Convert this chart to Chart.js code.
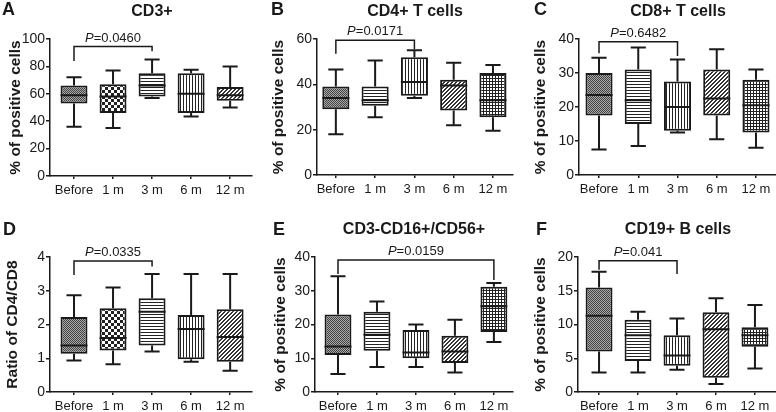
<!DOCTYPE html>
<html>
<head>
<meta charset="utf-8">
<script src="https://cdn.jsdelivr.net/npm/chart.js@4.4.0/dist/chart.umd.min.js"></script>
<style>
  body { margin: 0; background: #fff; }
  #wrap { position: relative; width: 776px; height: 412px; overflow: hidden; background: #fff;
          font-family: "Liberation Sans", Arial, sans-serif; color: #1a1a1a; }
  canvas { position: absolute; }
  .letter { position: absolute; font-size: 18px; font-weight: bold; line-height: 18px; }
  .title { position: absolute; width: 200px; text-align: center; font-size: 16px; font-weight: bold; line-height: 16px; }
</style>
</head>
<body>
<div id="wrap">
  <canvas id="chartA" width="258" height="200" style="left:0px;top:0px"></canvas>
  <canvas id="chartB" width="258" height="200" style="left:258px;top:0px"></canvas>
  <canvas id="chartC" width="260" height="200" style="left:516px;top:0px"></canvas>
  <canvas id="chartD" width="258" height="212" style="left:0px;top:200px"></canvas>
  <canvas id="chartE" width="258" height="212" style="left:258px;top:200px"></canvas>
  <canvas id="chartF" width="260" height="212" style="left:516px;top:200px"></canvas>

  <div class="letter" style="left:2px;top:0px">A</div>
  <div class="letter" style="left:271px;top:0px">B</div>
  <div class="letter" style="left:534px;top:0px">C</div>
  <div class="letter" style="left:3px;top:220px">D</div>
  <div class="letter" style="left:273px;top:220px">E</div>
  <div class="letter" style="left:536px;top:220px">F</div>

  <div class="title" style="left:52px;top:3px">CD3+</div>
  <div class="title" style="left:315px;top:3px">CD4+ T cells</div>
  <div class="title" style="left:578px;top:3px">CD8+ T cells</div>
  <div class="title" style="left:314px;top:221px">CD3-CD16+/CD56+</div>
  <div class="title" style="left:578px;top:221px">CD19+ B cells</div>
</div>
<script>
const timePoints = ['Before', '1 m', '3 m', '6 m', '12 m'];

// [min, Q1, median, Q3, max] per time point
const cd3Box = [[36, 53, 59, 66, 72], [35, 46, 58, 67, 77], [57, 58, 66, 75, 85], [43.5, 46, 60, 75, 77.5], [50, 55, 59, 65, 80]];
const cd4Box = [[18, 29, 34, 39, 46.5], [25.5, 30.5, 33, 39, 50.5], [34, 35, 41, 52, 55], [22, 28.5, 39.5, 42, 49.5], [19.5, 25.5, 33, 45, 48.5]];
const cd8Box = [[7.5, 17.5, 23.5, 30, 34.5], [8.5, 15, 22, 31, 37.5], [12.5, 13, 20, 27.5, 34], [10.5, 17.5, 22.5, 31, 37], [8, 12.5, 20.5, 28, 31]];
const ratioBox = [[0.93, 1.13, 1.38, 2.22, 2.87], [0.82, 1.23, 1.6, 2.48, 3.1], [1.2, 1.38, 2.38, 2.78, 3.5], [0.9, 0.97, 1.87, 2.28, 3.5], [0.63, 0.9, 1.63, 2.45, 3.5]];
const nkBox = [[5.3, 11, 13.5, 23, 34.3], [7.4, 12.2, 17, 23.8, 26.8], [7.4, 10, 11.7, 18.4, 20], [5.8, 8.6, 12, 16.7, 21.4], [14.8, 17.8, 25.4, 31.2, 32.3]];
const bBox = [[2.9, 6, 11.3, 15.5, 17.8], [2.9, 4.6, 8.4, 10.7, 11.9], [3.3, 3.9, 5.4, 8.4, 10.9], [1.2, 2.1, 9.3, 11.8, 13.9], [3.5, 6.7, 8.4, 9.6, 12.9]];

// [from index, to index, bracket top, left end, right end]
const cd3Bracket = [0, 2, 94.5, 84, 91];
const cd4Bracket = [0, 2, 59.5, 53.5, 55.5];
const cd8Bracket = [0, 2, 39.2, 35.8, 35];
const ratioBracket = [0, 2, 3.88, 3.47, 3.72];
const nkBracket = [0, 4, 39.1, 35, 33.2];
const bBracket = [0, 2, 19.45, 18.1, 17.5];

const pValues = ['0.0460', '0.0171', '0.6482', '0.0335', '0.0159', '0.041'];

const ink = '#1a1a1a';
const fontFam = '"Liberation Sans", Arial, sans-serif';
Chart.defaults.font.family = fontFam;
Chart.defaults.color = ink;

function makePattern(kind) {
  const c = document.createElement('canvas');
  const g = c.getContext('2d');
  let n = 3;
  if (kind === 'checker') n = 6;
  if (kind === 'diag') n = 4;
  if (kind === 'dots') n = 2;
  c.width = n; c.height = n;
  g.fillStyle = '#fff';
  g.fillRect(0, 0, n, n);
  g.fillStyle = '#222';
  if (kind === 'dots') {
    g.fillStyle = '#a8a8a8'; g.fillRect(0, 0, 2, 2);
    g.fillStyle = '#444'; g.fillRect(0, 0, 1, 1); g.fillRect(1, 1, 1, 1);
  } else if (kind === 'checker') {
    g.fillRect(0, 0, 3, 3); g.fillRect(3, 3, 3, 3);
  } else if (kind === 'hlines') {
    g.fillRect(0, 0, 3, 1);
  } else if (kind === 'vlines') {
    g.fillRect(0, 0, 1, 3);
  } else if (kind === 'diag') {
    g.fillStyle = '#333';
    for (let i = 0; i < 4; i++) {
      g.fillRect(i, 3 - i, 1, 1);
      g.fillRect(i, (4 - i) % 4, 1, 1);
    }
  } else if (kind === 'grid') {
    g.fillRect(0, 0, 3, 1); g.fillRect(0, 0, 1, 3);
  }
  return g.createPattern(c, 'repeat');
}

const fillsA = ['dots', 'checker', 'hlines', 'vlines', 'diag'];
const fillsB = ['dots', 'hlines', 'vlines', 'diag', 'grid'];

const boxWhiskers = {
  id: 'boxWhiskers',
  afterDatasetsDraw(chart) {
    const opt = chart.options.plugins.boxWhiskers;
    const ctx = chart.ctx;
    const xs = chart.scales.x, ys = chart.scales.y;
    const meta = chart.getDatasetMeta(0);
    ctx.save();
    ctx.strokeStyle = ink;
    ctx.lineWidth = 2;
    meta.data.forEach((bar, i) => {
      const [lo, q1, med, q3, hi] = opt.box[i];
      const cx = bar.x, half = bar.width / 2, cap = bar.width * 0.28;
      const pLo = ys.getPixelForValue(lo), pHi = ys.getPixelForValue(hi);
      ctx.beginPath();
      ctx.moveTo(cx, ys.getPixelForValue(q3)); ctx.lineTo(cx, pHi);
      ctx.moveTo(cx - cap, pHi); ctx.lineTo(cx + cap, pHi);
      ctx.moveTo(cx, ys.getPixelForValue(q1)); ctx.lineTo(cx, pLo);
      ctx.moveTo(cx - cap, pLo); ctx.lineTo(cx + cap, pLo);
      ctx.moveTo(cx - half, ys.getPixelForValue(med)); ctx.lineTo(cx + half, ys.getPixelForValue(med));
      ctx.stroke();
    });

    const [from, to, top, leftEnd, rightEnd] = opt.bracket;
    const x1 = xs.getPixelForValue(from), x2 = xs.getPixelForValue(to);
    const yt = ys.getPixelForValue(top);
    ctx.lineWidth = 1.5;
    ctx.beginPath();
    ctx.moveTo(x1, ys.getPixelForValue(leftEnd));
    ctx.lineTo(x1, yt);
    ctx.lineTo(x2, yt);
    ctx.lineTo(x2, ys.getPixelForValue(rightEnd));
    ctx.stroke();

    // P=... label, italic P
    ctx.fillStyle = ink;
    ctx.textBaseline = 'alphabetic';
    ctx.font = 'italic 13px ' + fontFam;
    const wP = ctx.measureText('P').width;
    ctx.font = '13px ' + fontFam;
    const rest = '=' + opt.p;
    const wR = ctx.measureText(rest).width;
    const start = (x1 + x2) / 2 - (wP + wR) / 2;
    ctx.font = 'italic 13px ' + fontFam;
    ctx.fillText('P', start, yt - 5);
    ctx.font = '13px ' + fontFam;
    ctx.fillText(rest, start + wP, yt - 5);
    ctx.restore();
  }
};

const panels = [
  { id: 'chartA', box: cd3Box, bracket: cd3Bracket, p: pValues[0], fills: fillsA, yTitle: '% of positive cells',
    yMax: 100, yStep: 20, pad: { left: 6, right: 6, top: 39, bottom: 0 }, yWidth: 44, xHeight: 24, xMin: -0.615, xMax: 4.56 },
  { id: 'chartB', box: cd4Box, bracket: cd4Bracket, p: pValues[1], fills: fillsB, yTitle: '% of positive cells',
    yMax: 60, yStep: 20, pad: { left: 11, right: 3, top: 39, bottom: 0 }, yWidth: 48, xHeight: 25, xMin: -0.48, xMax: 4.51 },
  { id: 'chartC', box: cd8Box, bracket: cd8Bracket, p: pValues[2], fills: fillsB, yTitle: '% of positive cells',
    yMax: 40, yStep: 10, pad: { left: 15, right: 0, top: 39, bottom: 0 }, yWidth: 48, xHeight: 25, xMin: -0.51, xMax: 4.51 },
  { id: 'chartD', box: ratioBox, bracket: ratioBracket, p: pValues[3], fills: fillsA, yTitle: 'Ratio of CD4/CD8',
    yMax: 4, yStep: 1, pad: { left: 3, right: 6, top: 57, bottom: 0 }, yWidth: 47, xHeight: 20, xMin: -0.615, xMax: 4.56 },
  { id: 'chartE', box: nkBox, bracket: nkBracket, p: pValues[4], fills: fillsB, yTitle: '% of positive cells',
    yMax: 40, yStep: 10, pad: { left: 13, right: 3, top: 57, bottom: 0 }, yWidth: 44, xHeight: 20, xMin: -0.59, xMax: 4.49 },
  { id: 'chartF', box: bBox, bracket: bBracket, p: pValues[5], fills: fillsB, yTitle: '% of positive cells',
    yMax: 20, yStep: 5, pad: { left: 15, right: 0, top: 57, bottom: 0 }, yWidth: 47, xHeight: 20, xMin: -0.54, xMax: 4.54 }
];

panels.forEach((p) => {
  new Chart(document.getElementById(p.id), {
    type: 'bar',
    data: {
      datasets: [{
        data: p.box.map((b, i) => ({ x: i, y: [b[1], b[3]] })),
        backgroundColor: p.fills.map(makePattern),
        borderColor: ink,
        borderWidth: 2,
        borderSkipped: false,
        barPercentage: 0.69,
        categoryPercentage: 1
      }]
    },
    options: {
      responsive: false,
      animation: false,
      layout: { padding: p.pad },
      plugins: {
        legend: { display: false },
        tooltip: { enabled: false },
        boxWhiskers: { box: p.box, bracket: p.bracket, p: p.p }
      },
      scales: {
        x: {
          type: 'linear',
          min: p.xMin,
          max: p.xMax,
          offset: false,
          afterBuildTicks: (s) => { s.ticks = timePoints.map((t, i) => ({ value: i })); },
          afterFit: (s) => { s.height = p.xHeight; },
          ticks: { callback: (v) => timePoints[v], autoSkip: false, maxRotation: 0, padding: 4, font: { size: 13 }, color: ink },
          grid: { drawOnChartArea: false, offset: false, tickLength: 3, color: ink, lineWidth: 1.5 },
          border: { display: true, color: ink, width: 1.5 }
        },
        y: {
          min: 0,
          max: p.yMax,
          afterFit: (s) => { s.width = p.yWidth; },
          ticks: { stepSize: p.yStep, padding: 1, font: { size: 14 }, color: ink },
          grid: { drawOnChartArea: false, tickLength: 4, color: ink, lineWidth: 1.5 },
          border: { display: true, color: ink, width: 1.5 },
          title: { display: true, text: p.yTitle, padding: 0, color: ink, font: { size: 15.5, weight: 'bold' } }
        }
      }
    },
    plugins: [boxWhiskers]
  });
});
</script>
</body>
</html>
